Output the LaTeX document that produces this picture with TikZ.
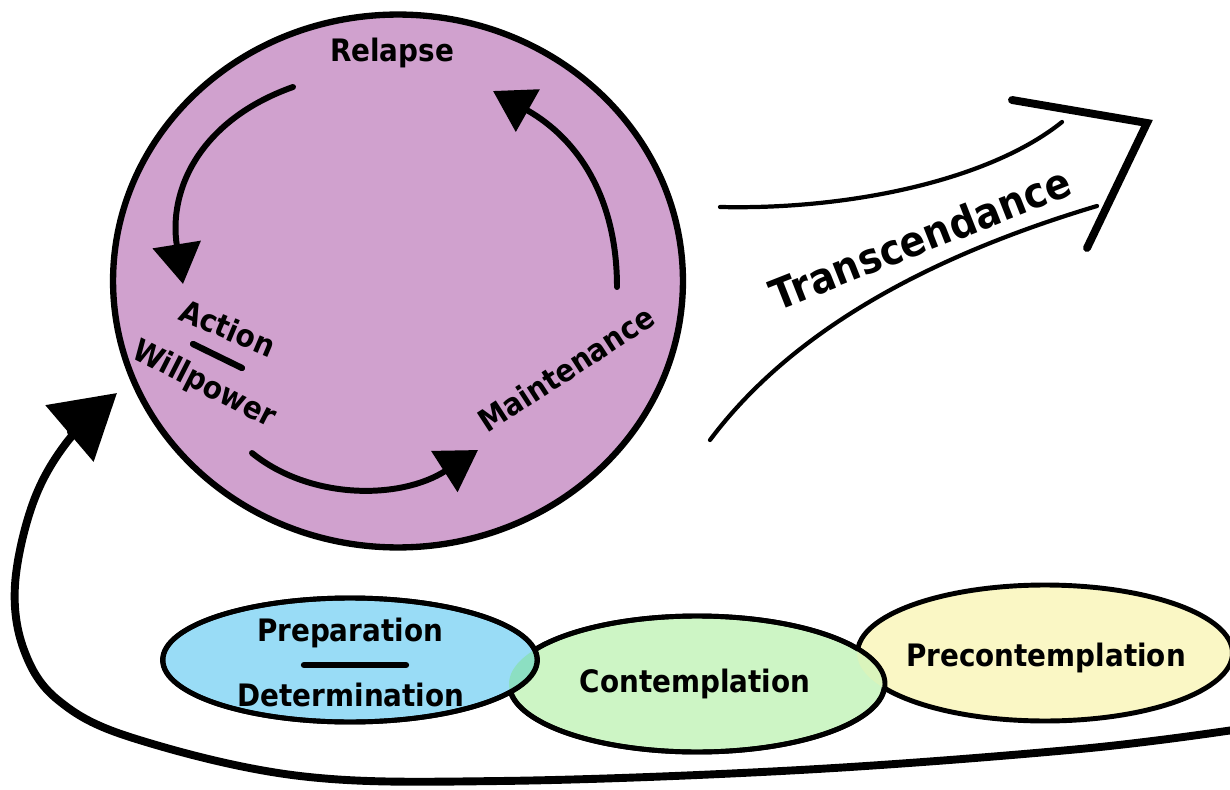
\documentclass[tikz,border=0pt]{standalone}
\usepackage{fontspec}
\setmainfont{DejaVu Sans}[FakeStretch=0.9]
\usetikzlibrary{arrows.meta,shapes.geometric}
\definecolor{circfill}{HTML}{D0A1CE}
\definecolor{prepfill}{HTML}{99DCF6}
\definecolor{contfill}{HTML}{CDF5C5}
\definecolor{prefill}{HTML}{FAF7C5}
\definecolor{overlapbg}{HTML}{8CDFC2}
\definecolor{overlapgy}{HTML}{DAF4BC}
\begin{document}
\begin{tikzpicture}[x=0.02cm,y=-0.02cm,
  lbl/.style={font=\fontsize{17.6}{20}\selectfont\bfseries, inner sep=0pt},
  stage/.style={ellipse, draw, line width=2.8pt, inner sep=0pt, minimum width=7.5cm},
  cyc/.style={line width=3.4pt, line cap=round, -{Triangle[length=0.8cm,width=0.95cm]}},
  big/.style={line width=4.5pt, line cap=round, -{Triangle[length=1.25cm,width=1.45cm]}},
  trans/.style={line width=2.4pt, line cap=round},
  bar/.style={line width=3.6pt, line cap=round},
]
\useasboundingbox (0,0) rectangle (1230,790);

% big circle
\node[ellipse, draw, line width=3.6pt, fill=circfill, inner sep=0pt,
      minimum width=11.4cm, minimum height=10.66cm] (cycle) at (398,281) {};

% stage ellipses
\node[stage, fill=prefill, minimum height=2.72cm] (pre) at (1045,653) {};
\node[stage, fill=contfill, minimum height=2.72cm] (cont) at (697,684) {};
\begin{scope}
  \clip (pre.center) ellipse [x radius=188, y radius=68];
  \fill[overlapgy] (cont.center) ellipse [x radius=188, y radius=68];
\end{scope}
\draw[line width=2.8pt] (cont.center) ellipse [x radius=188, y radius=68];
\node[stage, fill=prepfill, minimum height=2.48cm] (prep) at (350,660) {};
\begin{scope}
  \clip (prep.center) ellipse [x radius=187, y radius=62];
  \fill[overlapbg] (cont.center) ellipse [x radius=188, y radius=68];
\end{scope}
\draw[line width=2.8pt] (prep.center) ellipse [x radius=187, y radius=62];

% labels
\node[lbl] (relapse) at (392,53) {Relapse};
\node[lbl, rotate=-23] (action) at (228,328) {Action};
\coordinate (abarA) at (193,344);
\coordinate (abarB) at (242,368);
\draw[bar] (abarA) -- (abarB);
\node[lbl, rotate=-27] (will) at (204,385) {Willpower};
\node[lbl, rotate=33] (maint) at (566,369) {Maintenance};
\node[lbl, font=\fontsize{24}{27}\selectfont\bfseries, rotate=21.5] (trans) at (920,238) {Transcendance};
\node[lbl] (prepL) at (350,633) {Preparation};
\coordinate (pbarA) at (304,665);
\coordinate (pbarB) at (406,665);
\draw[bar] (pbarA) -- (pbarB);
\node[lbl] (detL) at (351,695) {Determination};
\node[lbl] (contL) at (695,684) {Contemplation};
\node[lbl] (preL) at (1046,658) {Precontemplation};

% cycle arrows
\coordinate (a1s) at (293,87);
\coordinate (a1e) at (183,284);
\draw[cyc] (a1s) .. controls (200,120) and (168,190) .. (a1e);
\coordinate (a2s) at (617,287);
\coordinate (a2e) at (493,91);
\draw[cyc] (a2s) .. controls (617,200) and (580,140) .. (a2e);
\coordinate (a3s) at (252,453);
\coordinate (a3e) at (478,450);
\draw[cyc] (a3s) .. controls (310,500) and (400,500) .. (a3e);

% transcendance arrow
\coordinate (t1s) at (720,207);
\coordinate (t1e) at (1062,122);
\draw[trans] (t1s) .. controls (850,210) and (990,180) .. (t1e);
\coordinate (t2s) at (710,440);
\coordinate (t2e) at (1097,206);
\draw[trans] (t2s) .. controls (800,320) and (950,250) .. (t2e);
\coordinate (c1) at (1012,100);
\coordinate (c2) at (1147,123);
\coordinate (c3) at (1087,248);
\draw[line width=4.5pt, line cap=round, line join=miter] (c1) -- (c2) -- (c3);

% big return arrow
\coordinate (bs) at (1240,729);
\coordinate (be) at (117,393);
\draw[big] plot[smooth, tension=0.6] coordinates {(bs) (1080,749) (800,770) (500,781) (300,776) (133,738) (58,700) (24,650) (15,585) (33,503) (67,442) (be)};
\end{tikzpicture}
\end{document}
